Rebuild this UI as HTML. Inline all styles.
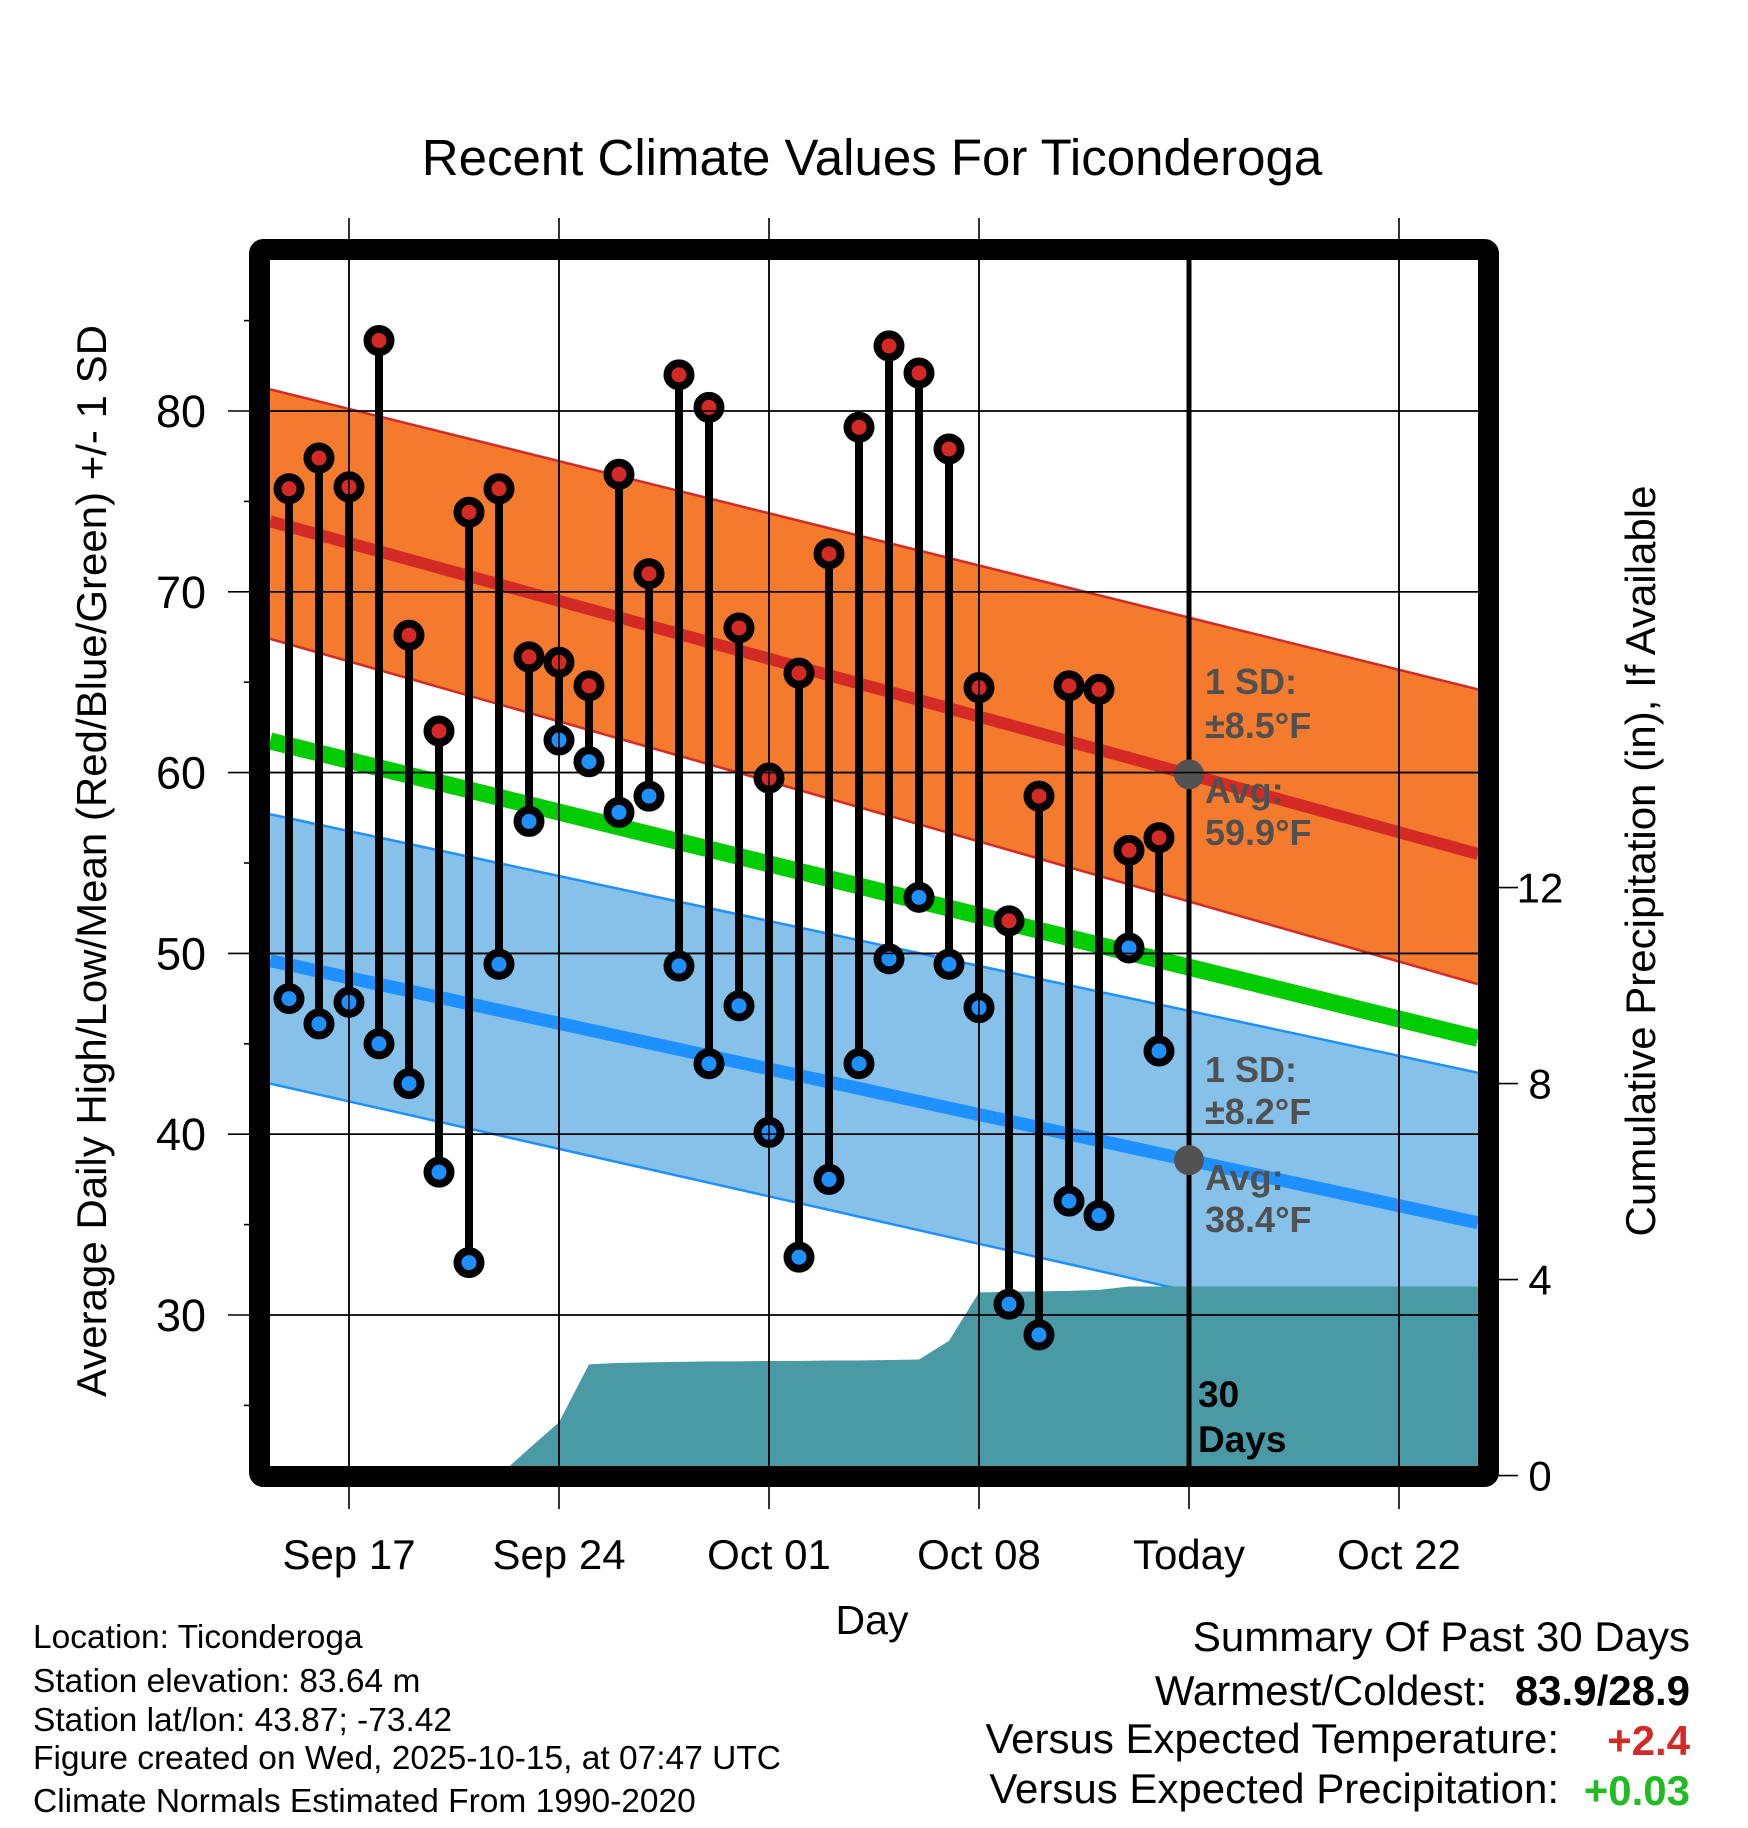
<!DOCTYPE html>
<html><head><meta charset="utf-8"><style>
html,body{margin:0;padding:0;background:#fff}
svg{display:block;font-family:"Liberation Sans",sans-serif}
</style></head><body>
<svg id="c" width="1748" height="1828" viewBox="0 0 1748 1828">
<text x="872" y="175" font-size="51" text-anchor="middle">Recent Climate Values For Ticonderoga</text>
<defs><clipPath id="pc"><rect x="270" y="260" width="1208" height="1206"/></clipPath></defs>
<g id="plot" clip-path="url(#pc)"></g>
<g id="axes"></g>
</svg>
<script>
const days=[-2,-1,0,1,2,3,4,5,6,7,8,9,10,11,12,13,14,15,16,17,18,19,20,21,22,23,24,25,26,27];
const highs=[75.7,77.4,75.8,83.9,67.6,62.3,74.4,75.7,66.4,66.1,64.8,76.5,71.0,82.0,80.2,68.0,59.7,65.5,72.1,79.1,83.6,82.1,77.9,64.7,51.8,58.7,64.8,64.6,55.7,56.4];
const lows=[47.5,46.1,47.3,45.0,42.8,37.9,32.9,49.4,57.3,61.8,60.6,57.8,58.7,49.3,43.9,47.1,40.1,33.2,37.5,43.9,49.7,53.1,49.4,47.0,30.6,28.9,36.3,35.5,50.3,44.6];
const precip=[0,0,0,0,0,0,0,0,0.55,1.09,2.27,2.3,2.31,2.32,2.33,2.33,2.34,2.34,2.35,2.35,2.36,2.37,2.75,3.74,3.75,3.76,3.77,3.79,3.86,3.86];
const normHighEnds=[73.9,55.5];
const normLowEnds=[49.6,35.1];
const highBandTop=[81.2,64.6];
const highBandBot=[67.4,48.3];
const lowBandTop=[57.7,43.4];
const lowBandBot=[42.8,27.7];
const yTicks=[30,40,50,60,70,80];
const pTicks=[0,4,8,12];
const xTickDays=[0,7,14,21,28,35];
const xTickLabels=["Sep 17","Sep 24","Oct 01","Oct 08","Today","Oct 22"];
const todayDay=28;
const dMin=-2.63,dMax=37.63;

const NS="http://www.w3.org/2000/svg";
const X=d=>349+(d)*30;
const Y=v=>411+(80-v)*18.08;
const P=p=>1475.6-p*49;
const plot=document.getElementById('plot'),axes=document.getElementById('axes');
function mk(tag,attrs,parent,txt){const e=document.createElementNS(NS,tag);for(const k in attrs)e.setAttribute(k,attrs[k]);if(txt!==undefined)e.textContent=txt;parent.appendChild(e);return e;}
const lerp=(ends,d)=>ends[0]+(ends[1]-ends[0])*(d-dMin)/(dMax-dMin);

function band(top,bot,fill,edge,name){
  const pts=[[dMin,top[0]],[dMax,top[1]],[dMax,bot[1]],[dMin,bot[0]]];
  let e=mk('polygon',{points:pts.map(p=>X(p[0])+','+Y(p[1])).join(' '),fill:fill},plot);
  
  
  [top,bot].forEach(b=>{let l=mk('line',{x1:X(dMin),y1:Y(b[0]),x2:X(dMax),y2:Y(b[1]),stroke:edge,'stroke-width':2.5},plot);
  
  });
}
band(highBandTop,highBandBot,'#f47a2e','#d42a26','high-sd-band');
band(lowBandTop,lowBandBot,'#85c1e8','#1e90ff','low-sd-band');

let pp=[[X(dMin),P(0)]];
days.forEach((d,i)=>pp.push([X(d),P(precip[i])]));
pp.push([X(dMax),P(precip[precip.length-1])],[X(dMax),P(0)]);
let pr=mk('polygon',{points:pp.map(p=>p.join(',')).join(' '),fill:'#4a9aa5'},plot);



yTicks.forEach(v=>{let l=mk('line',{x1:228,x2:1478,y1:Y(v),y2:Y(v),stroke:'#000','stroke-width':1.6},axes);


let t=mk('text',{x:206,y:Y(v)+16,'font-size':45,'text-anchor':'end'},axes,String(v));

});
[25,35,45,55,65,75,85].forEach(v=>{let l=mk('line',{x1:244,x2:260,y1:Y(v),y2:Y(v),stroke:'#000','stroke-width':1.6},axes);

});
xTickDays.forEach((d,i)=>{if(d!==todayDay){let l=mk('line',{x1:X(d),x2:X(d),y1:218,y2:1509,stroke:'#000','stroke-width':1.6},axes);

}
else{let l=mk('line',{x1:X(d),x2:X(d),y1:1466,y2:1509,stroke:'#000','stroke-width':1.6},axes);

}
let t=mk('text',{x:X(d),y:1569,'font-size':42,'text-anchor':'middle'},axes,xTickLabels[i]);

});

function nline(ends,color,w,name){let l=mk('line',{x1:X(dMin),y1:Y(lerp(ends,dMin)),x2:X(dMax),y2:Y(lerp(ends,dMax)),stroke:color,'stroke-width':w},plot);

}
nline(normHighEnds,'#d42a26',12,'avg-high-line');
nline(normLowEnds,'#1e90ff',13,'avg-low-line');
const meanEnds=[(normHighEnds[0]+normLowEnds[0])/2,(normHighEnds[1]+normLowEnds[1])/2];
nline(meanEnds,'#00cc00',17,'avg-mean-line');

yTicks.forEach(v=>{let l=mk('line',{x1:270,x2:1478,y1:Y(v),y2:Y(v),stroke:'#000','stroke-width':1.6},plot);

});
xTickDays.forEach(d=>{if(d===todayDay)return;let l=mk('line',{x1:X(d),x2:X(d),y1:260,y2:1466,stroke:'#000','stroke-width':1.6},plot);

});

let tl=mk('line',{x1:X(todayDay),x2:X(todayDay),y1:230,y2:1466,stroke:'#000','stroke-width':5},plot);



days.forEach((d,i)=>{
  let s=mk('line',{x1:X(d),x2:X(d),y1:Y(highs[i]),y2:Y(lows[i]),stroke:'#000','stroke-width':8},plot);
  
  
});
days.forEach((d,i)=>{
  let h=mk('circle',{cx:X(d),cy:Y(highs[i]),r:11.5,fill:'#d42a26',stroke:'#000','stroke-width':8},plot);
  
  
  let l=mk('circle',{cx:X(d),cy:Y(lows[i]),r:11.5,fill:'#1e90ff',stroke:'#000','stroke-width':8},plot);
  
  
});

[[lerp(normHighEnds,todayDay),'today-avg-high-point'],[lerp(normLowEnds,todayDay),'today-avg-low-point']].forEach(a=>{
  let c=mk('circle',{cx:X(todayDay),cy:Y(a[0]),r:15,fill:'#525252'},plot);
  
  
});

const ann=[["1 SD:",694],["±8.5°F",738],["Avg:",803],["59.9°F",845],["1 SD:",1082],["±8.2°F",1124],["Avg:",1190],["38.4°F",1232]];
ann.forEach(a=>{let t=mk('text',{x:1205,y:a[1],'font-size':36,'font-weight':'bold',fill:'#505050'},plot,a[0]);

});
[["30",1407],["Days",1452]].forEach(a=>{let t=mk('text',{x:1198,y:a[1],'font-size':37,'font-weight':'bold',fill:'#000'},plot,a[0]);

});

let fr=mk('rect',{x:259.5,y:249.5,width:1229,height:1227,fill:'none',stroke:'#000','stroke-width':21,rx:4},axes);



pTicks.forEach(p=>{let l=mk('line',{x1:1492,x2:1518,y1:P(p),y2:P(p),stroke:'#000','stroke-width':1.6},axes);


let t=mk('text',{x:1540,y:P(p)+15,'font-size':42,'text-anchor':'middle'},axes,String(p));

});
</script>
<div style="position:absolute;left:0;top:0;width:1748px;height:1828px;pointer-events:none">
<svg width="1748" height="1828" style="position:absolute;left:0;top:0;font-family:'Liberation Sans',sans-serif">
<text transform="translate(106,861) rotate(-90)" font-size="42" text-anchor="middle">Average Daily High/Low/Mean (Red/Blue/Green) +/- 1 SD</text>
<text transform="translate(1655,861) rotate(-90)" font-size="42" text-anchor="middle">Cumulative Precipitation (in), If Available</text>
<text x="872" y="1634" font-size="41" text-anchor="middle">Day</text>
<g font-size="33.5">
<text x="33" y="1648">Location: Ticonderoga</text>
<text x="33" y="1692">Station elevation: 83.64 m</text>
<text x="33" y="1731">Station lat/lon: 43.87; -73.42</text>
<text x="33" y="1769">Figure created on Wed, 2025-10-15, at 07:47 UTC</text>
<text x="33" y="1812">Climate Normals Estimated From 1990-2020</text>
</g>
<g font-size="42">
<text x="1690" y="1651" text-anchor="end">Summary Of Past 30 Days</text>
<text x="1487" y="1705" text-anchor="end">Warmest/Coldest:</text>
<text x="1690" y="1705" text-anchor="end" font-weight="bold">83.9/28.9</text>
<text x="1559" y="1753" text-anchor="end">Versus Expected Temperature:</text>
<text x="1690" y="1755" text-anchor="end" font-weight="bold" fill="#d42a26">+2.4</text>
<text x="1559" y="1803" text-anchor="end">Versus Expected Precipitation:</text>
<text x="1690" y="1805" text-anchor="end" font-weight="bold" fill="#22bb22">+0.03</text>
</g>
</svg></div>
</body></html>
